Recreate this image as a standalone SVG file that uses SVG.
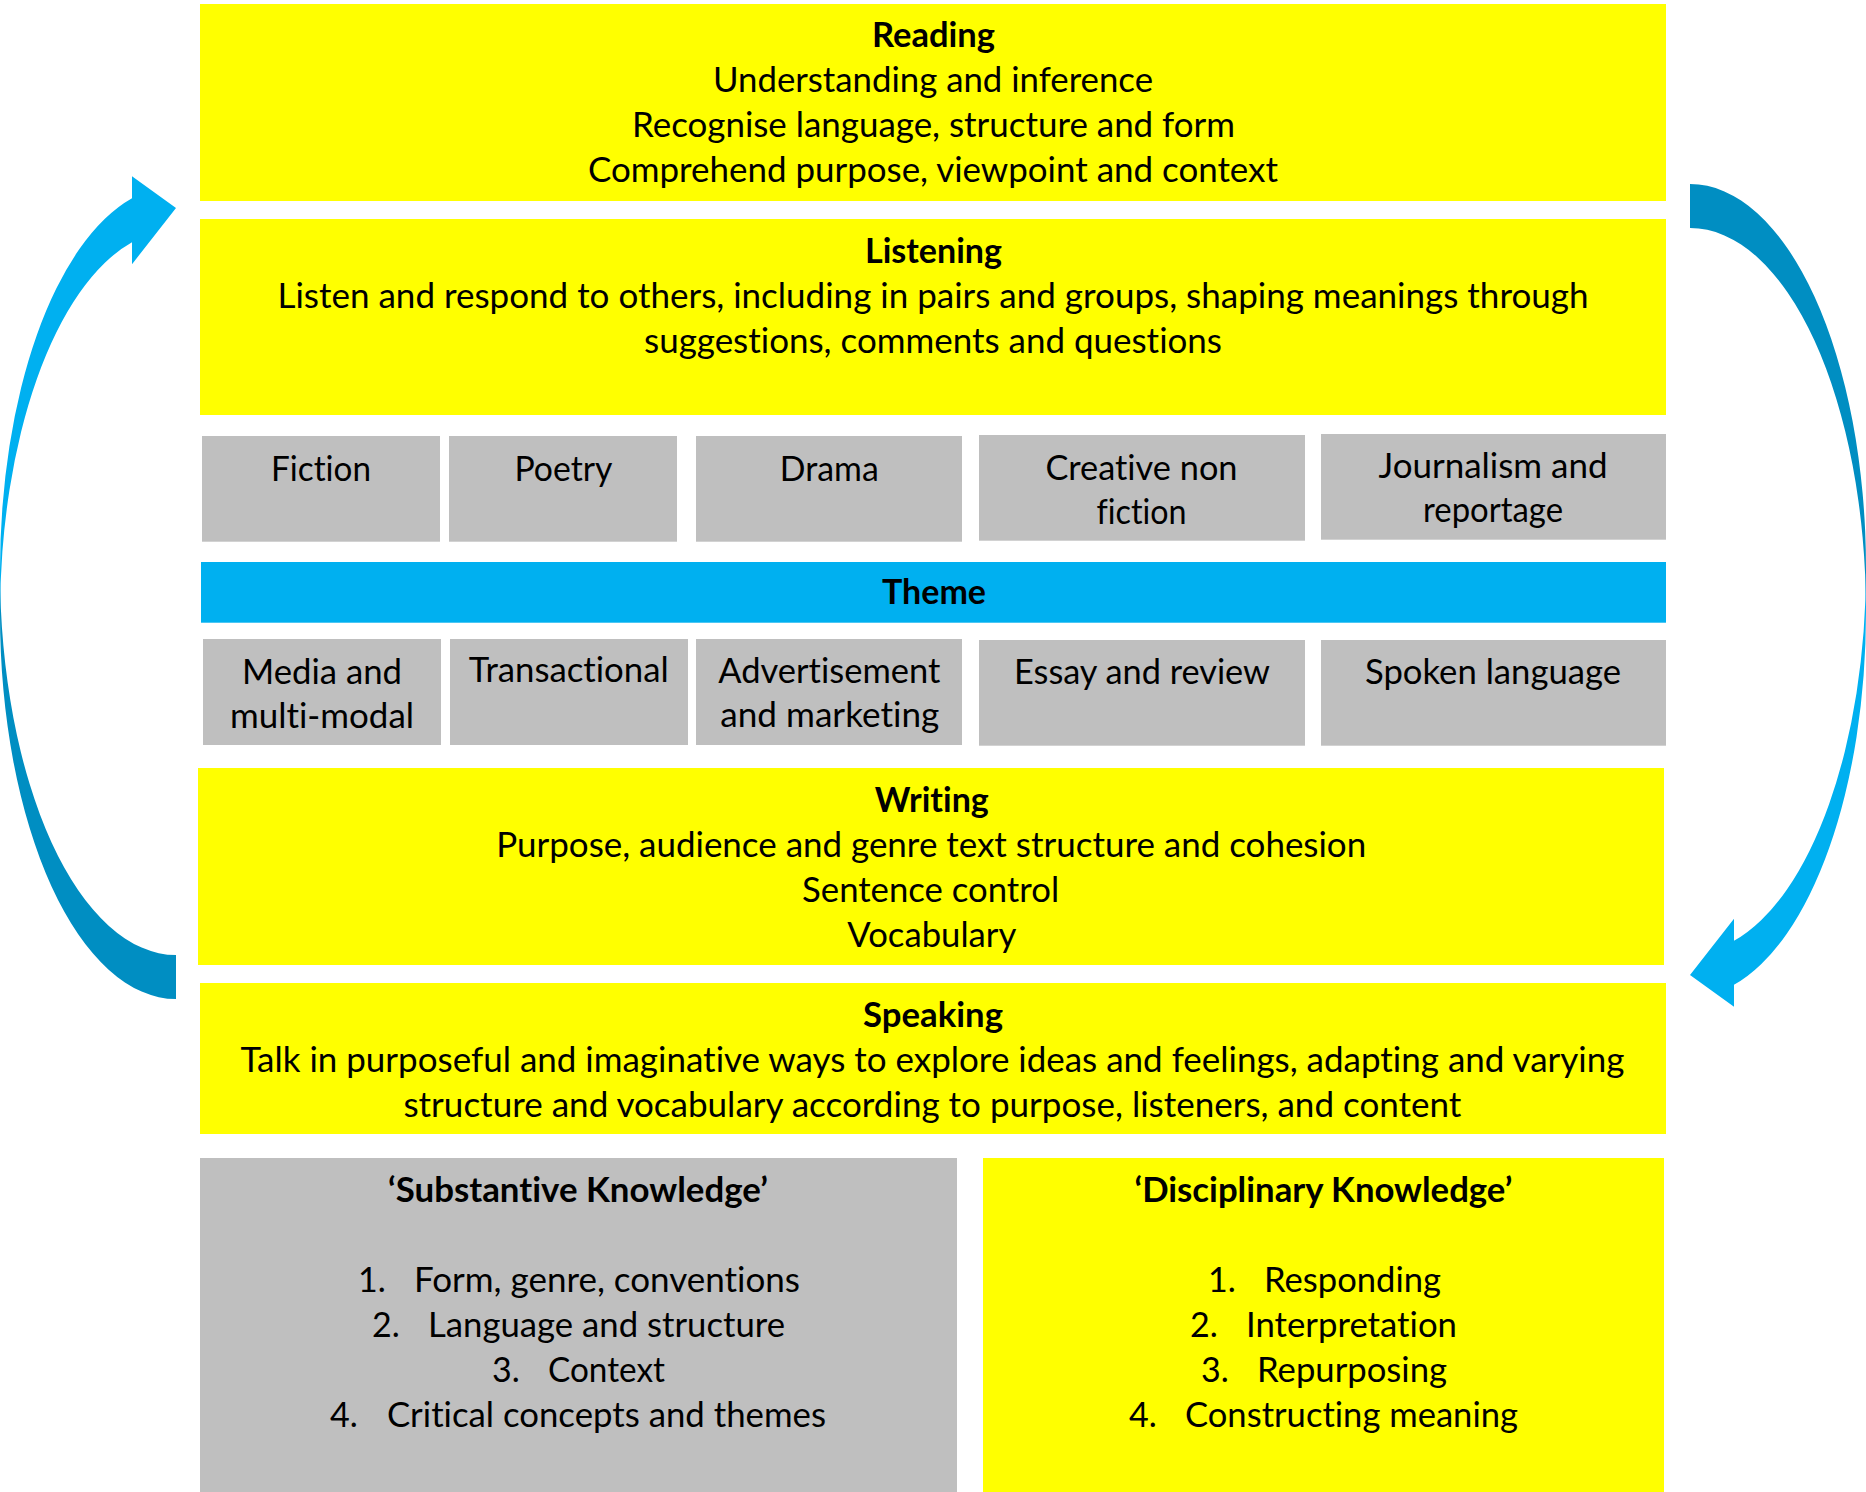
<svg xmlns="http://www.w3.org/2000/svg" xmlns:xlink="http://www.w3.org/1999/xlink" width="1866" height="1492" viewBox="0 0 1866 1492">
<style>
.y{fill:#FFFF00}
.g{fill:#BFBFBF}
.bl{fill:#00B0F0}
.dk{fill:#008EC2}
text{font-family:Lato,"Liberation Sans",sans-serif;font-size:34px;fill:#000;text-anchor:middle;font-variant-ligatures:none}
text.s{text-anchor:start}
.b{font-weight:700}
</style>
<defs>
<g id="curvedArrow">
<path class="dk" d="M176 999 A176 384.5 0 0 1 0 614.5 L0 570.5 A176 384.5 0 0 0 176 955 Z"/>
<path class="bl" d="M0 614.5 A176 384.5 0 0 1 132 242.2 L132 264.2 L176 208 L132 176.2 L132 198.2 A176 384.5 0 0 0 0 570.5 Z"/>
</g>
</defs>
<rect width="1866" height="1492" fill="#FFFFFF"/>
<g id="connectors">
<use xlink:href="#curvedArrow"/>
<use xlink:href="#curvedArrow" transform="rotate(180 933 591.5)"/>
</g>
<g id="reading">
<rect class="y" x="200" y="4" width="1466" height="197"/>
<text class="b" x="933.5" y="47" textLength="123" lengthAdjust="spacingAndGlyphs">Reading</text>
<text x="933" y="92" textLength="440" lengthAdjust="spacingAndGlyphs">Understanding and inference</text>
<text x="933.5" y="137" textLength="603" lengthAdjust="spacingAndGlyphs">Recognise language, structure and form</text>
<text x="933" y="182" textLength="690" lengthAdjust="spacingAndGlyphs">Comprehend purpose, viewpoint and context</text>
</g>
<g id="listening">
<rect class="y" x="200" y="219" width="1466" height="196"/>
<text class="b" x="933.5" y="262.5" textLength="137" lengthAdjust="spacingAndGlyphs">Listening</text>
<text x="933" y="307.5" textLength="1311" lengthAdjust="spacingAndGlyphs">Listen and respond to others, including in pairs and groups, shaping meanings through</text>
<text x="933" y="352.5" textLength="578" lengthAdjust="spacingAndGlyphs">suggestions, comments and questions</text>
</g>
<g id="fiction">
<rect class="g" x="202" y="436" width="238" height="105.7"/>
<text x="321" y="480.5" textLength="100" lengthAdjust="spacingAndGlyphs">Fiction</text>
</g>
<g id="poetry">
<rect class="g" x="449" y="436" width="228" height="105.7"/>
<text x="563.5" y="480.5" textLength="98" lengthAdjust="spacingAndGlyphs">Poetry</text>
</g>
<g id="drama">
<rect class="g" x="696" y="436" width="266" height="105.7"/>
<text x="829.3" y="480.5" textLength="99" lengthAdjust="spacingAndGlyphs">Drama</text>
</g>
<g id="creative-non-fiction">
<rect class="g" x="979" y="435" width="326" height="105.7"/>
<text x="1141.5" y="479.5" textLength="192" lengthAdjust="spacingAndGlyphs">Creative non</text>
<text x="1141.5" y="524" textLength="90" lengthAdjust="spacingAndGlyphs">fiction</text>
</g>
<g id="journalism">
<rect class="g" x="1321" y="434" width="345" height="105.7"/>
<text x="1493" y="477.5" textLength="229" lengthAdjust="spacingAndGlyphs">Journalism and</text>
<text x="1493" y="522" textLength="140" lengthAdjust="spacingAndGlyphs">reportage</text>
</g>
<g id="theme">
<rect class="bl" x="201" y="562" width="1465" height="60.7"/>
<text class="b" x="934" y="604" textLength="104" lengthAdjust="spacingAndGlyphs">Theme</text>
</g>
<g id="media">
<rect class="g" x="203" y="639" width="238" height="106"/>
<text x="322" y="683.5" textLength="160" lengthAdjust="spacingAndGlyphs">Media and</text>
<text x="322" y="727.5" textLength="184" lengthAdjust="spacingAndGlyphs">multi-modal</text>
</g>
<g id="transactional">
<rect class="g" x="450" y="639" width="238" height="106"/>
<text x="568.7" y="681.5" textLength="200" lengthAdjust="spacingAndGlyphs">Transactional</text>
</g>
<g id="advertisement">
<rect class="g" x="696" y="639" width="266" height="106"/>
<text x="829.3" y="682.5" textLength="222" lengthAdjust="spacingAndGlyphs">Advertisement</text>
<text x="829.8" y="726.5" textLength="219" lengthAdjust="spacingAndGlyphs">and marketing</text>
</g>
<g id="essay">
<rect class="g" x="979" y="640" width="326" height="105.7"/>
<text x="1142" y="684" textLength="256" lengthAdjust="spacingAndGlyphs">Essay and review</text>
</g>
<g id="spoken">
<rect class="g" x="1321" y="640" width="345" height="105.7"/>
<text x="1493" y="684" textLength="256" lengthAdjust="spacingAndGlyphs">Spoken language</text>
</g>
<g id="writing">
<rect class="y" x="198" y="768" width="1466" height="197"/>
<text class="b" x="931.8" y="812" textLength="114" lengthAdjust="spacingAndGlyphs">Writing</text>
<text x="931.2" y="857" textLength="870" lengthAdjust="spacingAndGlyphs">Purpose, audience and genre text structure and cohesion</text>
<text x="930.6" y="902" textLength="257" lengthAdjust="spacingAndGlyphs">Sentence control</text>
<text x="931.8" y="947" textLength="169" lengthAdjust="spacingAndGlyphs">Vocabulary</text>
</g>
<g id="speaking">
<rect class="y" x="200" y="983" width="1466" height="151"/>
<text class="b" x="933" y="1026.5" textLength="140" lengthAdjust="spacingAndGlyphs">Speaking</text>
<text x="932.4" y="1071.5" textLength="1384" lengthAdjust="spacingAndGlyphs">Talk in purposeful and imaginative ways to explore ideas and feelings, adapting and varying</text>
<text x="932.4" y="1116.5" textLength="1058" lengthAdjust="spacingAndGlyphs">structure and vocabulary according to purpose, listeners, and content</text>
</g>
<g id="substantive-knowledge">
<rect class="g" x="200" y="1158" width="757" height="334"/>
<text class="b" x="578" y="1201.5" textLength="380" lengthAdjust="spacingAndGlyphs">‘Substantive Knowledge’</text>
<text class="s" x="358" y="1292">1.</text>
<text class="s" x="414" y="1292" textLength="386" lengthAdjust="spacingAndGlyphs">Form, genre, conventions</text>
<text class="s" x="372" y="1337">2.</text>
<text class="s" x="428" y="1337" textLength="357" lengthAdjust="spacingAndGlyphs">Language and structure</text>
<text class="s" x="492" y="1382">3.</text>
<text class="s" x="548" y="1382" textLength="117" lengthAdjust="spacingAndGlyphs">Context</text>
<text class="s" x="330" y="1427">4.</text>
<text class="s" x="387" y="1427" textLength="439" lengthAdjust="spacingAndGlyphs">Critical concepts and themes</text>
</g>
<g id="disciplinary-knowledge">
<rect class="y" x="983" y="1158" width="681" height="334"/>
<text class="b" x="1323.5" y="1201.5" textLength="378" lengthAdjust="spacingAndGlyphs">‘Disciplinary Knowledge’</text>
<text class="s" x="1208" y="1292">1.</text>
<text class="s" x="1264" y="1292" textLength="177" lengthAdjust="spacingAndGlyphs">Responding</text>
<text class="s" x="1190" y="1337">2.</text>
<text class="s" x="1246" y="1337" textLength="211" lengthAdjust="spacingAndGlyphs">Interpretation</text>
<text class="s" x="1201" y="1382">3.</text>
<text class="s" x="1257" y="1382" textLength="190" lengthAdjust="spacingAndGlyphs">Repurposing</text>
<text class="s" x="1129" y="1427">4.</text>
<text class="s" x="1185" y="1427" textLength="333" lengthAdjust="spacingAndGlyphs">Constructing meaning</text>
</g>
</svg>
